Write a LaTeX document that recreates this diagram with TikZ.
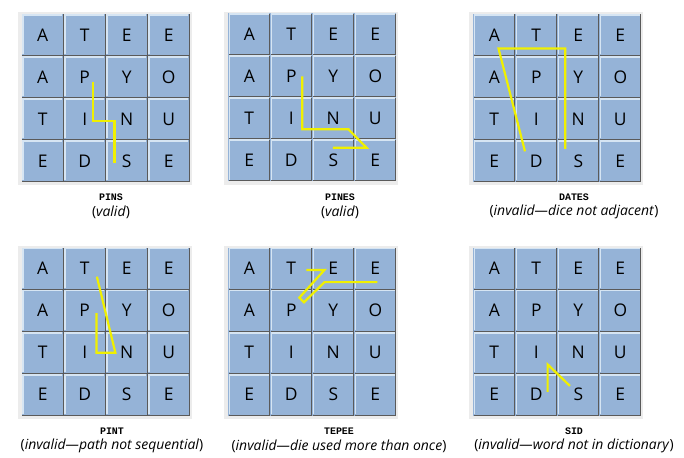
\documentclass[tikz,border=0pt]{standalone}
\usepackage{fontspec}
\setmainfont{Open Sans}
\newfontfamily\wordfont{Liberation Mono}
\definecolor{cellblue}{RGB}{149,179,215}
\definecolor{cellhi}{RGB}{214,229,243}
\definecolor{cellsh}{RGB}{90,90,90}
\definecolor{framegray}{RGB}{236,236,236}
\definecolor{pathyellow}{RGB}{240,240,0}
\tikzset{
  letter/.style={font=\fontsize{17.5}{18}\selectfont, inner sep=0pt},
  word/.style={font=\wordfont\bfseries\fontsize{10}{10}\selectfont, inner sep=0pt},
  note/.style={font=\fontsize{14}{14}\selectfont, inner sep=0pt},
  trail/.style={pathyellow, line width=2.2bp},
}
\begin{document}
\begin{tikzpicture}[x=1bp,y=-1bp]
\useasboundingbox[fill=white] (0,0) rectangle (684,458);
% the six boards
\foreach \b/\bx/\by in {1/21.7/14,2/228.3/13.3,3/473.3/14,4/21.7/247.7,5/228.3/247.7,6/473.3/247.7}
{
  \begin{scope}[shift={(\bx,\by)}]
    \fill[framegray] (-4,-1.5) rectangle (170,171.5);
    \foreach \l [count=\i from 0] in {A,T,E,E,A,P,Y,O,T,I,N,U,E,D,S,E}
    {
      \pgfmathtruncatemacro\c{mod(\i,4)}
      \pgfmathtruncatemacro\r{int(\i/4)}
      \fill[cellblue] (\c*42,\r*42) rectangle ++(42,42);
      \draw[cellhi, line width=1.6bp] (\c*42+1,\r*42+40.5) |- (\c*42+40.5,\r*42+1);
      \draw[cellsh, line width=1bp] (\c*42+0.5,\r*42+41.5) -| (\c*42+41.5,\r*42+0.5);
      \node[letter] (b\b c\i) at (\c*42+21,\r*42+21) {\l};
    }
  \end{scope}
}
% paths in cell units
\begin{scope}[shift={(21.7,14)}, x=42bp, y=-42bp]
  \draw[trail] (1.70,1.62) -- (1.70,2.54) -- (2.21,2.54) -- (2.21,3.54);
\end{scope}
\begin{scope}[shift={(228.3,13.3)}, x=42bp, y=-42bp]
  \draw[trail] (1.76,1.5) -- (1.76,2.76) -- (2.86,2.76) -- (3.29,3.2) -- (2.49,3.2);
\end{scope}
\begin{scope}[shift={(473.3,14)}, x=42bp, y=-42bp]
  \draw[trail] (1.23,3.27) -- (0.6,0.82) -- (2.19,0.82) -- (2.19,3.21);
\end{scope}
\begin{scope}[shift={(21.7,247.7)}, x=42bp, y=-42bp]
  \draw[trail] (1.78,1.56) -- (1.78,2.5) -- (2.23,2.5) -- (1.79,0.69);
\end{scope}
\begin{scope}[shift={(228.3,247.7)}, x=42bp, y=-42bp]
  \draw[trail] (1.86,0.53) -- (2.29,0.53) -- (1.69,1.19) -- (1.80,1.30) -- (2.29,0.82) -- (3.55,0.82);
\end{scope}
\begin{scope}[shift={(473.3,247.7)}, x=42bp, y=-42bp]
  \draw[trail] (2.30,3.29) -- (1.77,2.78) -- (1.77,3.43);
\end{scope}
% captions
\node[word] (w1) at (111,197) {PINS};
\node[note] (n1) at (111,212) {(\textit{valid})};
\node[word] (w2) at (340,197) {PINES};
\node[note] (n2) at (340,212) {(\textit{valid})};
\node[word] (w3) at (574,197) {DATES};
\node[note] (n3) at (574,212) {(\textit{invalid—dice not adjacent})};
\node[word] (w4) at (112,431) {PINT};
\node[note] (n4) at (112,446) {(\textit{invalid—path not sequential})};
\node[word] (w5) at (339,431) {TEPEE};
\node[note] (n5) at (339,446) {(\textit{invalid—die used more than once})};
\node[word] (w6) at (574,431) {SID};
\node[note] (n6) at (574,446) {(\textit{invalid—word not in dictionary})};
\end{tikzpicture}
\end{document}
